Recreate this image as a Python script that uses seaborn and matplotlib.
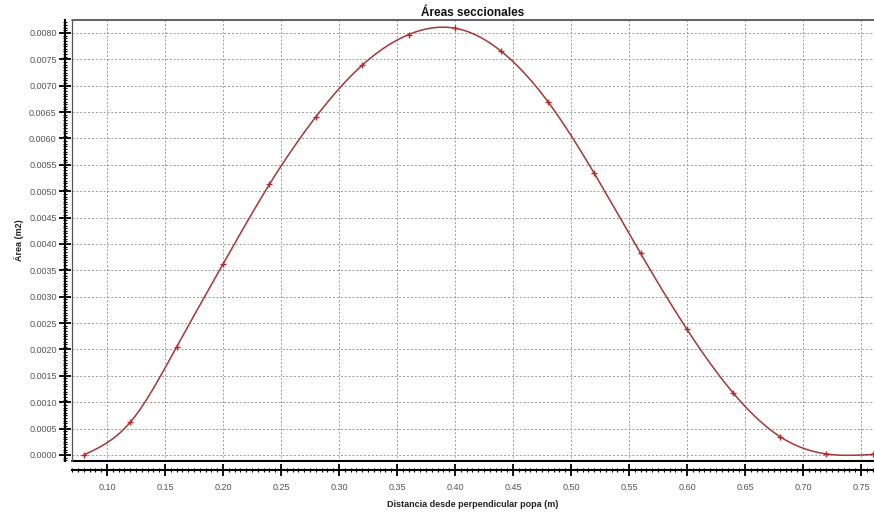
import numpy as np
import pandas as pd
import matplotlib
matplotlib.use("Agg")
import matplotlib.pyplot as plt
from matplotlib.ticker import MultipleLocator, FormatStrFormatter
import seaborn as sns

# Sectional areas measured along the hull
distancia = [0.08, 0.12, 0.16, 0.20, 0.24, 0.28, 0.32, 0.36, 0.40,
             0.44, 0.48, 0.52, 0.56, 0.60, 0.64, 0.68, 0.72, 0.76]
area = [0.00000, 0.00062, 0.00205, 0.00362, 0.00513, 0.00641, 0.00739, 0.00797, 0.00809,
        0.00765, 0.00670, 0.00534, 0.00382, 0.00238, 0.00117, 0.00035, 0.00002, 0.00001]

titulo = "Áreas seccionales"
etiqueta_x = "Distancia desde perpendicular popa (m)"
etiqueta_y = "Área (m2)"


def natural_spline(x, y, xs):
    """Natural cubic spline through (x, y), evaluated at xs."""
    x = np.asarray(x, float)
    y = np.asarray(y, float)
    n = len(x)
    h = np.diff(x)
    A = np.zeros((n, n))
    r = np.zeros(n)
    A[0, 0] = A[-1, -1] = 1.0
    for i in range(1, n - 1):
        A[i, i - 1] = h[i - 1]
        A[i, i] = 2 * (h[i - 1] + h[i])
        A[i, i + 1] = h[i]
        r[i] = 3 * ((y[i + 1] - y[i]) / h[i] - (y[i] - y[i - 1]) / h[i - 1])
    c = np.linalg.solve(A, r)
    b = (y[1:] - y[:-1]) / h - h * (2 * c[:-1] + c[1:]) / 3
    d = (c[1:] - c[:-1]) / (3 * h)
    idx = np.clip(np.searchsorted(x, xs) - 1, 0, n - 2)
    dx = xs - x[idx]
    return y[idx] + b[idx] * dx + c[idx] * dx ** 2 + d[idx] * dx ** 3


df = pd.DataFrame({"x": distancia, "a": area})
xs = np.linspace(distancia[0], distancia[-1], 400)
curve = pd.DataFrame({"x": xs, "a": natural_spline(distancia, area, xs)})

sns.set_style("white")
plt.rcParams["font.family"] = ["Liberation Sans", "DejaVu Sans"]

W, H = 874, 518
fig = plt.figure(figsize=(W / 100, H / 100), dpi=100)
left, right, top, bottom = 72, 874, 20, 461
ax = fig.add_axes([left / W, 1 - bottom / H, (right - left) / W, (bottom - top) / H])

sns.lineplot(data=curve, x="x", y="a", ax=ax, color="#a23838", linewidth=1.1,
             sort=False, zorder=3)
sns.scatterplot(data=df, x="x", y="a", ax=ax, marker="+", color="#b82a2a",
                s=22, linewidth=1.0, zorder=4)

ax.set_xlim(0.0698, 0.7612)
ax.set_ylim(-0.000114, 0.008246)

ax.xaxis.set_major_locator(MultipleLocator(0.05))
ax.xaxis.set_minor_locator(MultipleLocator(0.005))
ax.yaxis.set_major_locator(MultipleLocator(0.0005))
ax.yaxis.set_minor_locator(MultipleLocator(0.00005))
ax.xaxis.set_major_formatter(FormatStrFormatter("%.2f"))
ax.yaxis.set_major_formatter(FormatStrFormatter("%.4f"))

ax.grid(True, which="major", linestyle=(0, (2, 2)), color="#9a9a9a", linewidth=0.7)
ax.set_axisbelow(True)

# detached axes with a plot frame around the data area
for s in ("top", "right"):
    ax.spines[s].set_visible(False)
ax.spines["left"].set_position(("outward", 5))
ax.spines["bottom"].set_position(("outward", 6.5))
for s in ("left", "bottom"):
    ax.spines[s].set_linewidth(1.5)
    ax.spines[s].set_color("black")
ax.plot([0, 1], [1, 1], transform=ax.transAxes, color="#555555", lw=1.3, clip_on=False)
ax.plot([0, 1], [0, 0], transform=ax.transAxes, color="black", lw=1.5, clip_on=False)
ax.plot([0, 0], [0, 1], transform=ax.transAxes, color="#555555", lw=0.9, clip_on=False)

ax.tick_params(which="both", bottom=True, left=True, top=False, right=False)
ax.tick_params(which="major", direction="inout", length=8, width=1.3, color="black",
               labelsize=6.5, labelcolor="#555555")
ax.tick_params(which="minor", direction="inout", length=3.5, width=0.8, color="black")
ax.tick_params(axis="y", which="major", pad=2)
ax.tick_params(axis="x", which="major", pad=5)

ax.set_title(titulo, fontsize=8.5, fontweight="bold", pad=3, color="#111111")
ax.set_xlabel(etiqueta_x, fontsize=6.5, fontweight="bold", color="#222222", labelpad=6)
ax.set_ylabel(etiqueta_y, fontsize=6.5, fontweight="bold", color="#222222", labelpad=4)

fig.savefig("out.png", dpi=100, facecolor="white")
